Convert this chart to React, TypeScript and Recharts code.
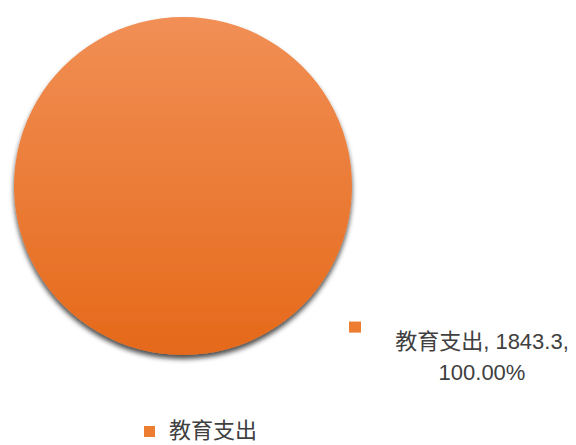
import React from "react"
import { PieChart, Pie, Cell, Legend } from "recharts"

const categories = ["教育支出"]
const values = [1843.3]
const percents = ["100.00%"]

const data = categories.map((name, i) => ({ name, value: values[i], pct: percents[i] }))

const FONT = '"Liberation Sans", Arial, "Noto Sans CJK SC", sans-serif'
const TEXT = "#404040"
const ORANGE = "#ED7D31"

const renderLabel = (props: any) => {
	const { cx, cy, outerRadius, payload } = props
	const x = cx + outerRadius * 1.0
	const y = cy + outerRadius * 0.82
	const tx = x + 130
	return (
		<g>
			<rect x={x - 3} y={y - 3} width={12} height={11} fill={ORANGE} />
			<text x={tx} y={y + 24} textAnchor="middle" fontSize={22} fill={TEXT} fontFamily={FONT}>
				{`${payload.name}, ${payload.value},`}
			</text>
			<text x={tx} y={y + 55} textAnchor="middle" fontSize={22} fill={TEXT} fontFamily={FONT}>
				{payload.pct}
			</text>
		</g>
	)
}

const renderLegend = () => (
	<div style={{ display: "flex", alignItems: "center", fontFamily: FONT, fontSize: 22, lineHeight: "26px", color: TEXT }}>
		{categories.map((c) => (
			<span key={c} style={{ display: "flex", alignItems: "center" }}>
				<span style={{ display: "inline-block", width: 11, height: 11, background: ORANGE, marginRight: 14 }} />
				{c}
			</span>
		))}
	</div>
)

export default function App() {
	return (
		<div style={{ position: "absolute", left: 0, top: 0, background: "#fff" }}>
			<PieChart width={576} height={445} margin={{ top: 0, right: 0, bottom: 0, left: 0 }}>
				<defs>
					<linearGradient id="orangeGrad" x1="0" y1="0" x2="0" y2="1">
						<stop offset="0%" stopColor="#F18F55" />
						<stop offset="100%" stopColor="#E5691A" />
					</linearGradient>
					<filter id="pieShadow" x="-10%" y="-10%" width="120%" height="125%">
						<feDropShadow dx="0" dy="4" stdDeviation="2.5" floodColor="#000" floodOpacity="0.7" />
					</filter>
				</defs>
				<Pie
					data={data}
					dataKey="value"
					nameKey="name"
					cx={183}
					cy={186}
					outerRadius={169}
					startAngle={90}
					endAngle={-270}
					stroke="none"
					label={renderLabel}
					labelLine={false}
					isAnimationActive={false}
					style={{ filter: "url(#pieShadow)" }}
				>
					{data.map((d) => (
						<Cell key={d.name} fill="url(#orangeGrad)" />
					))}
				</Pie>
				<Legend
					content={renderLegend}
					wrapperStyle={{ left: 144, top: 418, width: 200, height: 26 }}
				/>
			</PieChart>
		</div>
	)
}
